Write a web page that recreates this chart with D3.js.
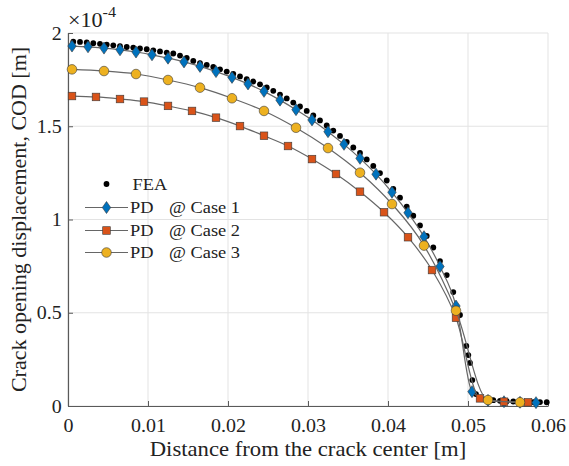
<!DOCTYPE html>
<html><head><meta charset="utf-8">
<script src="https://cdn.jsdelivr.net/npm/d3@7"></script>
<style>body{margin:0;background:#fff}svg{display:block}text{font-family:"Liberation Serif","Times New Roman",serif;fill:#222}</style>
</head><body><svg id="c" width="569" height="466"></svg>
<script>
// ---------- data (COD in units of 1e-4 m) ----------
const xTicks = [0, 0.01, 0.02, 0.03, 0.04, 0.05, 0.06];
const yTicks = [0, 0.5, 1, 1.5, 2];
const xTickLabels = ["0", "0.01", "0.02", "0.03", "0.04", "0.05", "0.06"];
const yTickLabels = ["0", "0.5", "1", "1.5", "2"];
const seriesNames = ["FEA", "PD   @ Case 1", "PD   @ Case 2", "PD   @ Case 3"];

const feaX = [0.00066,0.0015,0.00234,0.00316,0.0040,0.00484,0.00566,0.0065,0.00734,0.00816,0.0090,0.00984,0.01066,0.0115,0.01234,0.01316,0.0140,0.01484,0.01566,0.0165,0.01734,0.01816,0.0190,0.01984,0.02066,0.0215,0.02234,0.02316,0.0240,0.02484,0.02566,0.0265,0.02734,0.02816,0.0290,0.02984,0.03066,0.0315,0.03234,0.03316,0.0340,0.03484,0.03566,0.0365,0.03734,0.03816,0.0390,0.03984,0.04066,0.0415,0.04234,0.04316,0.0440,0.04484,0.04566,0.0465,0.04734,0.04816,0.0490,0.04979,0.05004,0.05025,0.05054,0.0510,0.05163,0.05238,0.05316,0.0540,0.05484,0.05566,0.0565,0.05734,0.05816,0.0590,0.05984];
const feaY = [1.953,1.952,1.949,1.945,1.942,1.938,1.934,1.929,1.925,1.922,1.917,1.913,1.907,1.901,1.895,1.890,1.879,1.866,1.850,1.839,1.829,1.818,1.805,1.793,1.781,1.767,1.752,1.740,1.725,1.708,1.690,1.670,1.649,1.627,1.606,1.582,1.558,1.531,1.504,1.477,1.448,1.416,1.386,1.357,1.322,1.287,1.249,1.209,1.164,1.117,1.069,1.020,0.968,0.912,0.850,0.777,0.702,0.611,0.488,0.322,0.273,0.231,0.139,0.064,0.043,0.035,0.031,0.028,0.026,0.024,0.023,0.022,0.021,0.021,0.020];

const case1X = [0.0005,0.0025,0.0045,0.0065,0.0085,0.0105,0.0125,0.0145,0.0165,0.0185,0.0205,0.0225,0.0245,0.0265,0.0285,0.0305,0.0325,0.0345,0.0365,0.0385,0.0405,0.0425,0.0445,0.0465,0.0485,0.0505,0.0525,0.0545,0.0565,0.0585];
const case1Y = [1.930,1.926,1.919,1.910,1.898,1.883,1.865,1.845,1.821,1.793,1.762,1.727,1.687,1.640,1.589,1.534,1.471,1.403,1.328,1.243,1.146,1.036,0.908,0.748,0.536,0.077,0.030,0.023,0.020,0.018];

const case2X = [0.0005,0.0035,0.0065,0.0095,0.0125,0.0155,0.0185,0.0215,0.0245,0.0275,0.0305,0.0335,0.0365,0.0395,0.0425,0.0455,0.0485,0.0515,0.0545,0.0575];
const case2Y = [1.662,1.657,1.646,1.632,1.609,1.582,1.546,1.501,1.449,1.394,1.324,1.244,1.149,1.039,0.905,0.729,0.473,0.041,0.023,0.020];

const case3X = [0.0005,0.0045,0.0085,0.0125,0.0165,0.0205,0.0245,0.0285,0.0325,0.0365,0.0405,0.0445,0.0485,0.0525,0.0565];
const case3Y = [1.805,1.796,1.780,1.748,1.707,1.650,1.582,1.492,1.383,1.251,1.083,0.860,0.511,0.032,0.020];

const colors = {fea:"#000000", c1:"#0072BD", c2:"#D95319", c3:"#EDB120", line:"#666666", edge:"#3a3a3a"};
const SX = 1.08; // horizontal stretch of the lettering

// ---------- layout ----------
const svg = d3.select("#c");
const L = 68, R = 548, T = 33, B = 406;
const x = d3.scaleLinear().domain([0, 0.06]).range([L, R]);
const y = d3.scaleLinear().domain([0, 2]).range([B, T]);

// grid
const g = svg.append("g");
g.selectAll("line.gx").data(xTicks).join("line").attr("x1", d=>x(d)).attr("x2", d=>x(d))
  .attr("y1", T).attr("y2", B).attr("stroke", "#e3e3e3").attr("stroke-width", 1);
g.selectAll("line.gy").data(yTicks).join("line").attr("y1", d=>y(d)).attr("y2", d=>y(d))
  .attr("x1", L).attr("x2", R).attr("stroke", "#e3e3e3").attr("stroke-width", 1);

// axes
const xAxis = d3.axisBottom(x).tickValues(xTicks).tickFormat((d,i)=>xTickLabels[i]).tickSizeInner(-5).tickSizeOuter(0).tickPadding(0);
const yAxis = d3.axisLeft(y).tickValues(yTicks).tickFormat((d,i)=>yTickLabels[i]).tickSizeInner(-5).tickSizeOuter(0).tickPadding(0);
const ax = svg.append("g").attr("transform", `translate(0,${B})`).call(xAxis);
const ay = svg.append("g").attr("transform", `translate(${L},0)`).call(yAxis);
[ax, ay].forEach(a => {
  a.select(".domain").attr("stroke", "#5a5a5a").attr("stroke-width", 1.2);
  a.selectAll(".tick line").attr("stroke", "#5a5a5a");
  a.selectAll(".tick text").attr("font-size", 18.5).attr("fill", "#222")
    .style("font-family", '"Liberation Serif","Times New Roman",serif');
});
ax.selectAll(".tick text").attr("y", 26).attr("dy", null).attr("transform", `scale(${SX},1)`);
ay.selectAll(".tick text").attr("x", -6.3/SX).attr("dy", "0.33em").attr("transform", `scale(${SX},1)`);

// axis labels
svg.append("text").attr("transform", `translate(${(L+R)/2},456) scale(${SX},1)`).attr("text-anchor", "middle")
  .attr("font-size", 21).text("Distance from the crack center [m]");
svg.append("text").attr("transform", `translate(26,${(T+B)/2}) rotate(-90)`).attr("text-anchor", "middle")
  .attr("font-size", 22).text("Crack opening displacement, COD [m]");
// exponent
const ex = svg.append("text").attr("transform", `translate(68,27) scale(${SX},1)`).attr("font-size", 20.5);
ex.append("tspan").text("\u00d710");
ex.append("tspan").attr("font-size", 15).attr("dy", -10).text("-4");

// ---------- series ----------
const plot = svg.append("g");
const line = d3.line().x(d=>x(d[0])).y(d=>y(d[1])).curve(d3.curveMonotoneX);
const c1 = case1X.map((v,i)=>[v, case1Y[i]]);
const c2 = case2X.map((v,i)=>[v, case2Y[i]]);
const c3 = case3X.map((v,i)=>[v, case3Y[i]]);
const fea = feaX.map((v,i)=>[v, feaY[i]]);

// FEA dots (drawn first)
plot.selectAll("circle.fea").data(fea).join("circle").attr("cx", d=>x(d[0])).attr("cy", d=>y(d[1]))
  .attr("r", 2.9).attr("fill", colors.fea);

function drawCase(data, kind, fill) {
  plot.append("path").datum(data).attr("d", line).attr("fill", "none").attr("stroke", colors.line).attr("stroke-width", 1.2);
  const sel = plot.append("g").selectAll("g").data(data).join("g")
    .attr("transform", d=>`translate(${x(d[0])},${y(d[1])})`);
  drawMarker(sel, kind, fill);
}
function drawMarker(sel, kind, fill) {
  if (kind === "diamond") {
    sel.append("path").attr("d", "M0,-6L4.2,0L0,6L-4.2,0Z").attr("fill", fill).attr("stroke", colors.edge).attr("stroke-width", 0.6);
  } else if (kind === "square") {
    sel.append("rect").attr("x", -3.8).attr("y", -3.8).attr("width", 7.6).attr("height", 7.6)
      .attr("fill", fill).attr("stroke", colors.edge).attr("stroke-width", 0.6);
  } else {
    sel.append("circle").attr("r", 4.8).attr("fill", fill).attr("stroke", colors.edge).attr("stroke-width", 0.6);
  }
}
drawCase(c1, "diamond", colors.c1);
drawCase(c2, "square", colors.c2);
drawCase(c3, "circle", colors.c3);

// ---------- legend ----------
const leg = svg.append("g");
const rows = [
  {name: seriesNames[0], kind: "dot", fill: colors.fea, yy: 184},
  {name: seriesNames[1], kind: "diamond", fill: colors.c1, yy: 207.5},
  {name: seriesNames[2], kind: "square", fill: colors.c2, yy: 230.5},
  {name: seriesNames[3], kind: "circle", fill: colors.c3, yy: 252.5}
];
function legText(gr, xx, s) {
  gr.append("text").attr("transform", `translate(${xx},0) scale(${SX},1)`).attr("dy", "0.35em").attr("font-size", 17).text(s);
}
rows.forEach(r => {
  const gr = leg.append("g").attr("transform", `translate(0,${r.yy})`);
  if (r.kind === "dot") {
    gr.append("circle").attr("cx", 106.5).attr("cy", 0).attr("r", 2.9).attr("fill", r.fill);
    legText(gr, 132.5, r.name);
  } else {
    gr.append("line").attr("x1", 85).attr("x2", 128).attr("y1", 0).attr("y2", 0).attr("stroke", colors.line).attr("stroke-width", 1.2);
    const m = gr.append("g").attr("transform", "translate(106.5,0)");
    drawMarker(m, r.kind, r.fill);
    const parts = r.name.split(/\s{2,}/);
    legText(gr, 130, parts[0]);
    legText(gr, 169, parts[1]);
  }
});
</script></body></html>
